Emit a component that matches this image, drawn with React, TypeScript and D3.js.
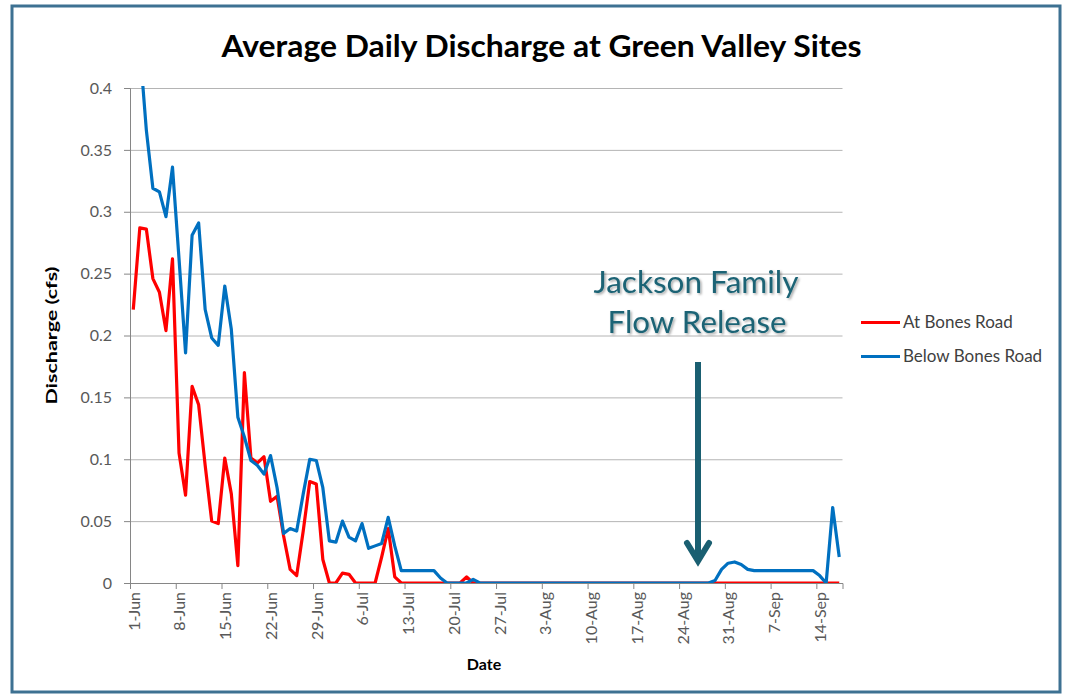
import React, { useEffect, useRef } from "react";
import * as d3 from "d3";

// daily mean discharge, 1-Jun .. 17-Sep (109 days)
const atBonesRoad = [
  0.221, 0.287, 0.286, 0.246, 0.235, 0.204, 0.262, 0.105, 0.071, 0.159,
  0.144, 0.095, 0.05, 0.048, 0.101, 0.072, 0.014, 0.17, 0.101, 0.097,
  0.102, 0.066, 0.07, 0.038, 0.011, 0.006, 0.042, 0.082, 0.08, 0.019,
  0, 0, 0.008, 0.007, 0, 0, 0, 0, 0.021, 0.044,
  0.005, 0, 0, 0, 0, 0, 0, 0, 0, 0,
  0, 0.005, 0, 0, 0, 0, 0, 0, 0, 0,
  0, 0, 0, 0, 0, 0, 0, 0, 0, 0,
  0, 0, 0, 0, 0, 0, 0, 0, 0, 0,
  0, 0, 0, 0, 0, 0, 0, 0, 0, 0,
  0, 0, 0, 0, 0, 0, 0, 0, 0, 0,
  0, 0, 0, 0, 0, 0, 0, 0, 0,
];

const belowBonesRoad = [
  0.46, 0.433, 0.366, 0.319, 0.316, 0.296, 0.336, 0.262, 0.186, 0.281,
  0.291, 0.221, 0.198, 0.192, 0.24, 0.205, 0.134, 0.118, 0.099, 0.095,
  0.088, 0.103, 0.077, 0.04, 0.044, 0.042, 0.072, 0.1, 0.099, 0.077,
  0.034, 0.033, 0.05, 0.037, 0.034, 0.048, 0.028, 0.03, 0.032, 0.053,
  0.03, 0.01, 0.01, 0.01, 0.01, 0.01, 0.01, 0.004, 0, 0,
  0, 0, 0.003, 0, 0, 0, 0, 0, 0, 0,
  0, 0, 0, 0, 0, 0, 0, 0, 0, 0,
  0, 0, 0, 0, 0, 0, 0, 0, 0, 0,
  0, 0, 0, 0, 0, 0, 0, 0, 0, 0.002,
  0.011, 0.016, 0.017, 0.015, 0.011, 0.01, 0.01, 0.01, 0.01, 0.01,
  0.01, 0.01, 0.01, 0.01, 0.01, 0.006, 0, 0.061, 0.021,
];

const xTickLabels = [
  "1-Jun", "8-Jun", "15-Jun", "22-Jun", "29-Jun", "6-Jul", "13-Jul", "20-Jul",
  "27-Jul", "3-Aug", "10-Aug", "17-Aug", "24-Aug", "31-Aug", "7-Sep", "14-Sep",
];
const yTickValues = [0, 0.05, 0.1, 0.15, 0.2, 0.25, 0.3, 0.35, 0.4];
const yTickLabels = ["0", "0.05", "0.1", "0.15", "0.2", "0.25", "0.3", "0.35", "0.4"];

const seriesNames = ["At Bones Road", "Below Bones Road"];
const seriesColors = ["#ff0000", "#0070c0"];

const DAY = 86400000;
const start = Date.UTC(2013, 5, 1);

const App = () => {
  const svgRef = useRef<SVGSVGElement>(null);

  useEffect(() => {
    const width = 1071;
    const height = 695;
    const marginLeft = 130;
    const marginRight = 228.5;
    const marginTop = 88;
    const marginBottom = 112;
    const font = "Lato, 'Open Sans', sans-serif";

    const svg = d3.select(svgRef.current).attr("width", width).attr("height", height);
    svg.selectAll("*").remove();

    const x = d3
      .scaleUtc()
      .domain([new Date(start), new Date(start + 109 * DAY)])
      .range([marginLeft, width - marginRight]);
    const y = d3
      .scaleLinear()
      .domain([0, 0.4])
      .range([height - marginBottom, marginTop]);

    const dayMid = (i: number) => new Date(start + (i + 0.5) * DAY);

    // frame
    svg
      .append("rect")
      .attr("x", 12)
      .attr("y", 6)
      .attr("width", 1048)
      .attr("height", 686)
      .attr("fill", "white")
      .attr("stroke", "#3d7192")
      .attr("stroke-width", 3);

    const defs = svg.append("defs");
    defs
      .append("clipPath")
      .attr("id", "plot-clip")
      .append("rect")
      .attr("x", marginLeft)
      .attr("y", marginTop - 2)
      .attr("width", width - marginLeft - marginRight + 2)
      .attr("height", height - marginTop - marginBottom + 2);
    const shadow = defs.append("filter").attr("id", "txt-shadow");
    shadow
      .append("feDropShadow")
      .attr("dx", 1.5)
      .attr("dy", 1.5)
      .attr("stdDeviation", 1.2)
      .attr("flood-color", "#000")
      .attr("flood-opacity", 0.35);

    // title
    svg
      .append("text")
      .attr("x", 541.5)
      .attr("y", 57)
      .attr("text-anchor", "middle")
      .attr("font-family", font)
      .attr("font-weight", "bold")
      .attr("font-size", 31)
      .attr("textLength", 640)
      .attr("lengthAdjust", "spacingAndGlyphs")
      .attr("fill", "#000")
      .text("Average Daily Discharge at Green Valley Sites");

    // grid lines
    svg
      .append("g")
      .attr("transform", `translate(${marginLeft}, 0)`)
      .call(
        d3
          .axisLeft(y)
          .tickValues(yTickValues.slice(1))
          .tickSize(-(width - marginLeft - marginRight))
          .tickFormat(() => "")
      )
      .call((g) => g.select(".domain").remove())
      .call((g) => g.selectAll("line").attr("stroke", "#b4b4b4"));

    // y axis
    svg
      .append("g")
      .attr("transform", `translate(${marginLeft}, 0)`)
      .call(
        d3
          .axisLeft(y)
          .tickValues(yTickValues)
          .tickSize(6)
          .tickPadding(12)
          .tickFormat((d, i) => yTickLabels[i])
      )
      .call((g) => g.select(".domain").attr("stroke", "#868686"))
      .call((g) => g.selectAll("line").attr("stroke", "#868686"))
      .call((g) =>
        g
          .selectAll("text")
          .attr("font-family", font)
          .attr("font-size", 16)
          .attr("fill", "#595959")
      );

    // x axis: tick marks at week boundaries
    const tickDates = xTickLabels.map((_, i) => new Date(start + i * 7 * DAY));
    svg
      .append("g")
      .attr("transform", `translate(0, ${height - marginBottom})`)
      .call(d3.axisBottom(x).tickValues(tickDates).tickSize(6).tickFormat(() => ""))
      .call((g) => g.select(".domain").attr("stroke", "#868686"))
      .call((g) => g.selectAll("line").attr("stroke", "#868686"));

    // x labels centred on the day
    const labelDates = xTickLabels.map((_, i) => dayMid(i * 7));
    svg
      .append("g")
      .attr("transform", `translate(0, ${height - marginBottom})`)
      .call(
        d3
          .axisBottom(x)
          .tickValues(labelDates)
          .tickSize(0)
          .tickFormat((d, i) => xTickLabels[i])
      )
      .call((g) => g.select(".domain").remove())
      .call((g) =>
        g
          .selectAll("text")
          .attr("transform", "rotate(-90)")
          .attr("x", -9)
          .attr("y", 0)
          .attr("dy", "0.36em")
          .attr("text-anchor", "end")
          .attr("font-family", font)
          .attr("font-size", 16)
          .attr("fill", "#595959")
      );

    // axis titles
    svg
      .append("text")
      .attr("transform", `translate(57, ${(marginTop + height - marginBottom) / 2}) rotate(-90)`)
      .attr("text-anchor", "middle")
      .attr("font-family", font)
      .attr("font-weight", "bold")
      .attr("font-size", 16)
      .attr("textLength", 138)
      .attr("lengthAdjust", "spacingAndGlyphs")
      .attr("fill", "#000")
      .text("Discharge (cfs)");
    svg
      .append("text")
      .attr("x", 484)
      .attr("y", 670)
      .attr("text-anchor", "middle")
      .attr("font-family", font)
      .attr("font-weight", "bold")
      .attr("font-size", 16)
      .attr("fill", "#000")
      .text("Date");

    // lines
    const line = d3
      .line<number>()
      .x((d, i) => x(dayMid(i)))
      .y((d) => y(d));
    const plot = svg.append("g").attr("clip-path", "url(#plot-clip)");
    [atBonesRoad, belowBonesRoad].forEach((series, k) => {
      plot
        .append("path")
        .datum(series)
        .attr("fill", "none")
        .attr("stroke", seriesColors[k])
        .attr("stroke-width", 3.2)
        .attr("stroke-linejoin", "round")
        .attr("d", line);
    });

    // legend
    const legend = svg.append("g");
    seriesNames.forEach((name, k) => {
      const ly = 322.5 + k * 34;
      legend
        .append("line")
        .attr("x1", 861)
        .attr("x2", 900)
        .attr("y1", ly)
        .attr("y2", ly)
        .attr("stroke", seriesColors[k])
        .attr("stroke-width", 3.2);
      legend
        .append("text")
        .attr("x", 903)
        .attr("y", ly + 5.5)
        .attr("font-family", font)
        .attr("font-size", 17)
        .attr("fill", "#404040")
        .text(name);
    });

    // annotation
    const note = svg.append("g").attr("fill", "#1d6475").attr("filter", "url(#txt-shadow)");
    note
      .append("text")
      .attr("x", 696)
      .attr("y", 293)
      .attr("text-anchor", "middle")
      .attr("font-family", font)
      .attr("font-size", 30)
      .attr("textLength", 205)
      .attr("lengthAdjust", "spacingAndGlyphs")
      .text("Jackson Family");
    note
      .append("text")
      .attr("x", 697)
      .attr("y", 333)
      .attr("text-anchor", "middle")
      .attr("font-family", font)
      .attr("font-size", 30)
      .attr("textLength", 179)
      .attr("lengthAdjust", "spacingAndGlyphs")
      .text("Flow Release");

    const arrowX = 698;
    const arrow = svg
      .append("g")
      .attr("stroke", "#1a5f71")
      .attr("stroke-width", 6)
      .attr("fill", "none");
    arrow
      .append("line")
      .attr("x1", arrowX)
      .attr("x2", arrowX)
      .attr("y1", 362)
      .attr("y2", 562);
    arrow
      .append("path")
      .attr("stroke-linecap", "round")
      .attr("stroke-linejoin", "miter")
      .attr("d", `M${arrowX - 11},${543} L${arrowX},${561} L${arrowX + 11},${543}`);
  }, []);

  return (
    <div style={{ position: "absolute", left: 0, top: 0 }}>
      <svg ref={svgRef} style={{ display: "block" }}></svg>
    </div>
  );
};

export default App;
